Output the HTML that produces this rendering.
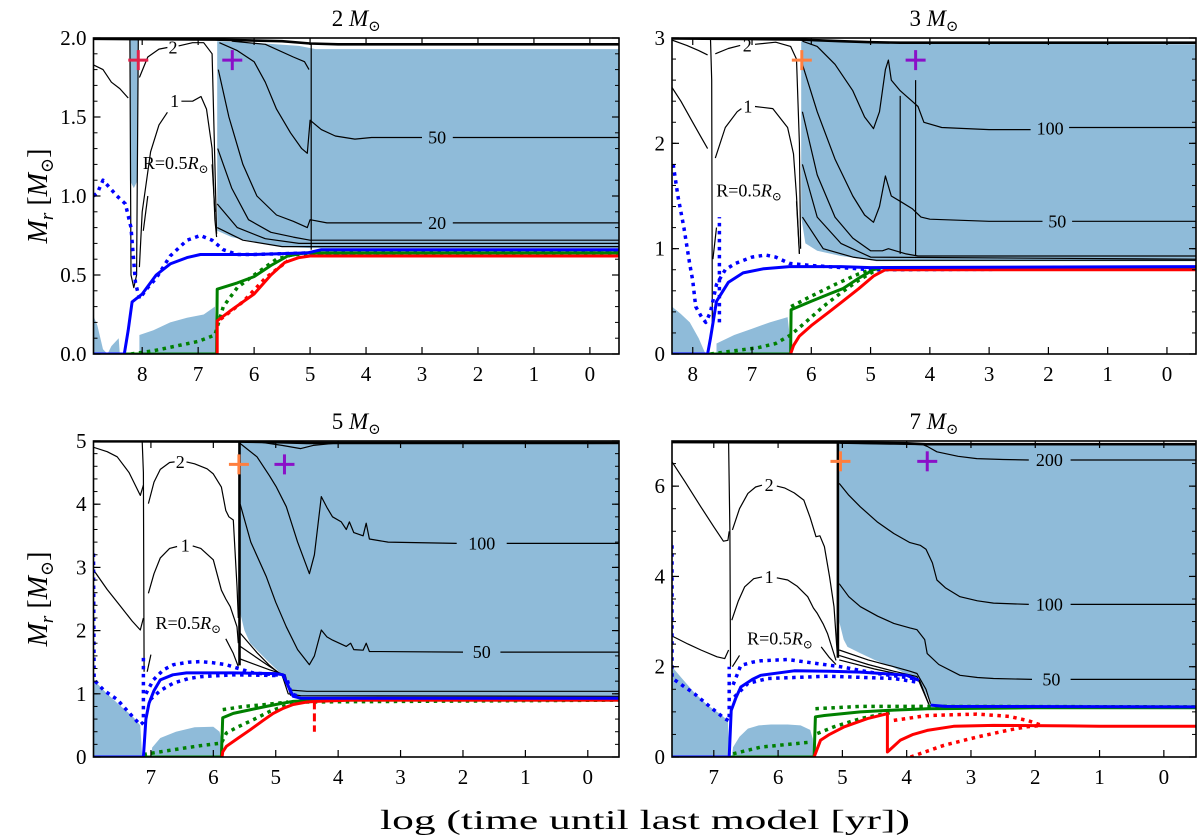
<!DOCTYPE html>
<html><head><meta charset="utf-8"><title>Kippenhahn diagrams</title>
<style>
html,body{margin:0;padding:0;background:#fff;}
svg{display:block;font-family:"Liberation Serif","DejaVu Serif",serif;}
</style></head>
<body>
<svg id="fig" width="1200" height="840" viewBox="0 0 1200 840" xmlns="http://www.w3.org/2000/svg">
<text x="645" y="829" font-size="27" text-anchor="middle" textLength="530" lengthAdjust="spacingAndGlyphs">log (time until last model [yr])</text>
<text transform="translate(47,196) rotate(-90)" font-size="28" text-anchor="middle"><tspan font-style="italic">M</tspan><tspan font-style="italic" font-size="19" dy="6">r</tspan><tspan dy="-6">  [</tspan><tspan font-style="italic">M</tspan><tspan font-size="18" dy="6">⊙</tspan><tspan dy="-6">]</tspan></text>
<text transform="translate(47,599) rotate(-90)" font-size="28" text-anchor="middle"><tspan font-style="italic">M</tspan><tspan font-style="italic" font-size="19" dy="6">r</tspan><tspan dy="-6">  [</tspan><tspan font-style="italic">M</tspan><tspan font-size="18" dy="6">⊙</tspan><tspan dy="-6">]</tspan></text>
</svg>
<script>
// ---------- 2 Msun ----------
const m2Shade=[[6.66,1.98],[6.66,0.78],[6.4,0.74],[6.0,0.71],[5.5,0.68],[5.0,0.67],[-0.52,0.67],[-0.52,1.93],[4.9,1.93],[5.2,1.95],[6.0,1.97]];
const m2ShadeDip=[[8.22,2.0],[8.22,1.1],[8.15,1.05],[8.08,1.1],[8.07,2.0]];
const m2ShadeCore=[[8.87,0],[8.87,0.24],[8.8,0.18],[8.7,0.03],[8.62,0],[8.55,0.05],[8.42,0.1],[8.4,0]];
const m2ShadeSaw=[[8.05,0],[8.05,0.12],[7.8,0.15],[7.5,0.2],[7.2,0.23],[6.9,0.25],[6.7,0.3],[6.67,0]];
const m2Surface=[[8.87,1.995],[6.7,1.99],[5.5,1.98],[5.0,1.965],[4.5,1.96],[-0.52,1.96]];
const m2Dip=[[8.22,1.99],[8.2,0.5],[8.15,0.42],[8.1,0.5],[8.07,1.99]];
const m2CL2=[[8.87,1.83],[8.7,1.8],[8.55,1.72],[8.4,1.68],[8.25,1.62]];
const m2C2a=[[8.05,1.75],[7.9,1.88],[7.7,1.93],[7.55,1.94]];
const m2C2b=[[7.35,1.95],[7.1,1.97],[6.9,1.97],[6.75,1.9],[6.7,1.2],[6.67,0.76]];
const m2C1a=[[8.05,0.55],[8.0,0.9],[7.85,1.28],[7.7,1.45],[7.55,1.53]];
const m2C1b=[[7.3,1.6],[7.1,1.6],[6.95,1.63],[6.85,1.55],[6.75,1.3],[6.7,0.85],[6.67,0.74]];
const m2Ra=[[7.98,0.78],[7.9,1.0]];
const m2Rb=[[6.75,1.2],[6.7,0.9]];
const m2E50a=[[6.62,1.97],[6.3,1.92],[6.0,1.85],[5.8,1.72],[5.6,1.55],[5.35,1.4],[5.15,1.3],[5.05,1.27],[5.0,1.48],[4.8,1.42],[4.55,1.38],[4.2,1.36],[3.9,1.37],[3.0,1.37]];
const m2E50b=[[2.45,1.37],[-0.52,1.37]];
const m2E20a=[[6.64,1.8],[6.45,1.5],[6.2,1.2],[5.95,1.0],[5.6,0.88],[5.3,0.84],[5.05,0.8],[5.0,0.85],[4.7,0.83],[3.0,0.83]];
const m2E20b=[[2.45,0.83],[-0.52,0.83]];
const m2E3=[[6.65,1.3],[6.4,1.05],[6.1,0.85],[5.7,0.77],[5.3,0.74],[5.0,0.72],[-0.52,0.72]];
const m2E4=[[6.66,0.95],[6.3,0.8],[5.8,0.73],[5.2,0.70],[-0.52,0.70]];
const m2E5=[[6.66,0.8],[6.2,0.72],[5.5,0.68],[-0.52,0.68]];
const m2E6=[[6.4,1.98],[5.8,1.96],[5.3,1.88],[5.1,1.85],[5.02,1.8]];
const m2Vert=[[4.98,1.97],[4.98,0.66]];
const m2BlueSolid=[[8.87,0],[8.32,0],[8.25,0.15],[8.18,0.33],[8.0,0.38],[7.75,0.5],[7.5,0.57],[7.2,0.61],[6.96,0.63],[6.0,0.63],[5.05,0.64],[4.8,0.66],[-0.52,0.66]];
const m2BlueDot=[[8.87,1.0],[8.8,1.02],[8.7,1.1],[8.6,1.06],[8.45,1.0],[8.3,0.95],[8.2,0.8],[8.12,0.45],[8.05,0.35],[7.9,0.42],[7.75,0.48],[7.5,0.62],[7.2,0.72],[6.96,0.75],[6.75,0.72],[6.55,0.66],[6.3,0.63],[6.0,0.63],[5.0,0.64],[-0.52,0.65]];
const m2GreenSolid=[[8.32,0],[6.67,0],[6.66,0.41],[6.3,0.45],[6.0,0.49],[5.7,0.56],[5.4,0.62],[5.1,0.64],[-0.52,0.64]];
const m2GreenDot=[[8.2,0],[7.8,0.02],[7.4,0.05],[7.0,0.08],[6.7,0.12],[6.55,0.3],[6.3,0.42],[6.0,0.5],[5.6,0.6],[5.3,0.63],[-0.52,0.64]];
const m2Red=[[6.66,0],[6.66,0.21],[6.4,0.28],[6.0,0.38],[5.7,0.5],[5.45,0.58],[5.2,0.61],[5.0,0.62],[-0.52,0.62]];
const m2RedDot=[[6.6,0.22],[6.2,0.33],[5.8,0.48],[5.4,0.59]];
const m2Markers=[[8.07,1.86],[6.39,1.86]];
const m2Labels=[[7.45,1.94,'2'],[7.42,1.6,'1'],[2.73,1.37,'50'],[2.73,0.83,'20']];
const m2RLabel=[7.4,1.21];
// ---------- 3 Msun ----------
const m3Shade=[[6.17,2.97],[6.17,1.3],[6.1,1.05],[5.9,0.98],[5.5,0.93],[5.1,0.9],[4.9,0.88],[-0.49,0.88],[-0.49,2.94],[4.2,2.95],[5.5,2.97]];
const m3ShadeCore=[[8.35,0],[8.35,0.45],[8.2,0.38],[8.05,0.3],[7.9,0.15],[7.8,0.02],[7.75,0]];
const m3ShadeSaw=[[7.6,0],[7.6,0.1],[7.3,0.18],[7.0,0.24],[6.7,0.3],[6.4,0.35],[6.33,0]];
const m3Surface=[[8.35,2.995],[7.0,2.99],[6.2,2.985],[5.5,2.97],[5.0,2.96],[4.5,2.955],[-0.49,2.955]];
const m3Dip=[[7.7,2.99],[7.68,2.6],[7.67,0.3]];
const m3CL2=[[8.35,2.98],[8.1,2.93],[7.9,2.88],[7.75,2.84]];
const m3C2a=[[7.62,2.85],[7.4,2.9],[7.2,2.93]];
const m3C2b=[[6.95,2.94],[6.6,2.96],[6.35,2.92],[6.25,2.8],[6.2,2.0],[6.18,1.0]];
const m3CL1=[[8.35,2.53],[8.2,2.4],[8.0,2.2],[7.85,2.05],[7.75,1.95]];
const m3C1a=[[7.62,1.86],[7.45,2.15],[7.25,2.3],[7.18,2.33]];
const m3C1b=[[6.95,2.35],[6.65,2.33],[6.4,2.15],[6.3,1.9],[6.25,1.5],[6.2,0.95]];
const m3Ra=[[7.66,0.9],[7.6,1.2]];
const m3Rb=[[6.25,1.45],[6.2,0.95]];
const m3E100a=[[6.15,2.97],[5.9,2.92],[5.6,2.75],[5.3,2.5],[5.1,2.25],[4.95,2.14],[4.85,2.3],[4.75,2.7],[4.7,2.79],[4.65,2.6],[4.5,2.5],[4.4,2.45],[4.3,2.4],[4.2,2.35],[4.1,2.2],[3.8,2.15],[3.0,2.13],[2.3,2.13]];
const m3E100b=[[1.65,2.15],[-0.49,2.15]];
const m3E50a=[[6.15,2.75],[5.9,2.3],[5.6,1.85],[5.3,1.5],[5.1,1.32],[4.95,1.25],[4.85,1.4],[4.75,1.69],[4.65,1.5],[4.5,1.45],[4.3,1.38],[4.15,1.3],[4.0,1.28],[3.0,1.26],[2.1,1.26]];
const m3E50b=[[1.6,1.26],[-0.49,1.26]];
const m3E3=[[6.15,2.3],[5.9,1.7],[5.6,1.3],[5.3,1.1],[5.0,0.98],[4.8,0.98],[4.7,1.0],[4.4,0.95],[4.2,0.93],[-0.49,0.93]];
const m3E4=[[6.15,1.8],[5.9,1.3],[5.5,1.05],[5.0,0.92],[-0.49,0.9]];
const m3E5=[[6.15,1.3],[5.8,1.0],[5.3,0.92],[4.9,0.89],[-0.49,0.89]];
const m3V1=[[4.5,2.45],[4.5,0.95]];
const m3V2=[[4.24,2.6],[4.24,0.93]];
const m3BlueSolid=[[8.35,0],[7.75,0],[7.7,0.15],[7.6,0.5],[7.4,0.68],[7.15,0.77],[6.8,0.81],[6.37,0.83],[5.5,0.83],[5.0,0.82],[-0.49,0.83]];
const m3BlueDot=[[8.33,1.8],[8.25,1.5],[8.15,1.2],[8.05,0.85],[8.0,0.7],[7.95,0.45],[7.85,0.35],[7.78,0.3],[7.7,0.4],[7.6,0.66],[7.45,0.8],[7.28,0.86],[7.0,0.92],[6.77,0.94],[6.6,0.92],[6.37,0.86],[6.0,0.84],[5.5,0.82],[5.0,0.8],[-0.49,0.81]];
const m3BlueDot2=[[7.55,0.3],[7.55,1.3]];
const m3GreenSolid=[[7.75,0],[6.35,0],[6.34,0.42],[6.0,0.5],[5.7,0.57],[5.47,0.62],[5.2,0.72],[4.95,0.8],[4.8,0.82],[-0.49,0.82]];
const m3GreenDot=[[7.7,0],[7.3,0.03],[6.9,0.06],[6.6,0.1],[6.35,0.18],[6.1,0.3],[5.8,0.45],[5.5,0.58],[5.2,0.7],[4.9,0.8],[-0.49,0.82]];
const m3GreenDot2=[[6.34,0.45],[6.0,0.55],[5.6,0.66],[5.2,0.76],[4.9,0.82]];
const m3Red=[[6.35,0],[6.3,0.08],[6.2,0.17],[6.0,0.27],[5.7,0.4],[5.47,0.5],[5.2,0.62],[4.95,0.74],[4.75,0.8],[-0.49,0.8]];
const m3Markers=[[6.16,2.79],[4.24,2.79]];
const m3Labels=[[7.08,2.93,'2'],[7.07,2.35,'1'],[1.97,2.14,'100'],[1.85,1.26,'50']];
const m3RLabel=[7.05,1.55];
// ---------- 5 Msun ----------
const m5Shade=[[5.6,5],[5.6,2.4],[5.5,2.0],[5.41,1.8],[5.15,1.54],[4.95,1.35],[4.83,1.17],[4.76,0.98],[4.6,0.95],[-0.5,0.95],[-0.5,4.95]];
const m5ShadeCore=[[7.92,0],[7.92,1.22],[7.7,1.0],[7.5,0.82],[7.3,0.65],[7.17,0.5],[7.14,0]];
const m5ShadeBump=[[7.0,0],[6.98,0.15],[6.85,0.3],[6.6,0.4],[6.3,0.47],[6.0,0.48],[5.9,0.4],[5.86,0.2],[5.86,0]];
const m5Surface=[[7.92,4.995],[5.6,4.99],[4.9,4.98],[4.5,4.97],[-0.5,4.97]];
const m5Dip=[[7.14,4.99],[7.12,4.5],[7.11,1.35]];
const m5CL2=[[7.92,4.9],[7.7,4.83],[7.54,4.75],[7.35,4.5],[7.17,4.14],[7.12,4.3]];
const m5C2a=[[7.04,4.01],[6.95,4.35],[6.85,4.55],[6.7,4.66],[6.62,4.67]];
const m5C2b=[[6.43,4.67],[6.3,4.64],[6.1,4.56],[6.0,4.48],[5.87,4.27],[5.8,3.9],[5.75,3.8],[5.68,3.75],[5.62,2.7],[5.6,2.2]];
const m5CL1=[[7.92,2.96],[7.7,2.65],[7.5,2.4],[7.3,2.15],[7.17,2.01],[7.12,2.2]];
const m5C1a=[[7.04,2.59],[6.95,2.9],[6.85,3.15],[6.7,3.3],[6.58,3.33]];
const m5C1b=[[6.33,3.34],[6.2,3.3],[6.0,3.12],[5.87,2.64],[5.8,2.5],[5.73,2.38],[5.62,2.06],[5.6,1.8]];
const m5Ra=[[7.06,1.35],[7.0,1.62]];
const m5Rb=[[5.8,1.87],[5.68,1.64],[5.6,1.43]];
const m5Thick=[[5.58,4.99],[5.58,1.45]];
const m5E100a=[[5.57,4.96],[5.3,4.75],[5.1,4.45],[4.99,4.27],[4.83,3.96],[4.65,3.4],[4.46,2.9],[4.38,3.2],[4.27,4.12],[4.18,3.95],[4.09,3.8],[3.95,3.72],[3.87,3.6],[3.82,3.72],[3.75,3.55],[3.6,3.5],[3.55,3.7],[3.5,3.45],[3.2,3.4],[2.1,3.38]];
const m5E100b=[[1.3,3.38],[-0.5,3.38]];
const m5E50a=[[5.57,4.0],[5.4,3.4],[5.15,2.85],[5.0,2.45],[4.83,2.06],[4.65,1.7],[4.46,1.46],[4.38,1.6],[4.27,2.01],[4.18,1.9],[4.09,1.85],[3.87,1.75],[3.8,1.8],[3.75,1.7],[3.6,1.69],[3.55,1.8],[3.5,1.67],[2.0,1.66]];
const m5E50b=[[1.4,1.66],[-0.5,1.66]];
const m5E3=[[5.57,1.96],[5.3,1.65],[5.1,1.45],[4.88,1.27],[4.78,1.06],[4.5,1.04],[-0.5,1.04]];
const m5E4=[[5.57,1.75],[5.2,1.5],[4.9,1.3],[4.8,1.0],[4.6,0.97],[-0.5,0.96]];
const m5E5=[[5.57,1.55],[5.1,1.38],[4.85,1.3],[4.76,0.97]];
const m5E6=[[5.3,4.99],[4.9,4.93],[4.6,4.88],[4.4,4.93],[4.0,4.97]];
const m5BlueSolid=[[7.92,0],[7.12,0],[7.08,0.6],[7.03,0.85],[6.95,1.05],[6.85,1.22],[6.65,1.3],[6.43,1.33],[5.68,1.33],[5.0,1.32],[4.88,1.3],[4.8,1.12],[4.72,0.96],[4.6,0.93],[-0.5,0.93]];
const m5BlueDot=[[7.92,3.22],[7.91,1.22],[7.75,1.05],[7.54,0.91],[7.35,0.7],[7.17,0.51],[7.12,0.55],[7.12,1.64]];
const m5BlueDot2=[[7.08,1.0],[6.96,1.22],[6.8,1.38],[6.64,1.46],[6.4,1.5],[6.21,1.51],[6.0,1.49],[5.79,1.46],[5.6,1.4],[5.36,1.33],[5.0,1.3],[4.83,1.27],[4.75,1.0],[4.6,0.95]];
const m5BlueDot3=[[7.01,0.91],[6.85,1.05],[6.64,1.17],[6.4,1.24],[6.21,1.27],[5.68,1.3],[5.0,1.29]];
const m5GreenSolid=[[7.12,0],[5.87,0],[5.85,0.62],[5.68,0.69],[5.4,0.75],[5.15,0.8],[4.9,0.85],[4.72,0.88],[4.3,0.9],[-0.5,0.9]];
const m5GreenDot=[[7.12,0.04],[6.8,0.09],[6.48,0.14],[6.2,0.18],[5.87,0.22],[5.79,0.38],[5.6,0.48],[5.36,0.59],[5.1,0.72],[4.88,0.8],[4.6,0.87],[-0.5,0.9]];
const m5GreenDot2=[[5.85,0.75],[5.5,0.8],[5.15,0.83],[4.8,0.87]];
const m5Red=[[5.86,0],[5.85,0.08],[5.79,0.17],[5.6,0.3],[5.41,0.43],[5.2,0.58],[5.04,0.69],[4.88,0.77],[4.72,0.83],[4.5,0.87],[4.35,0.88],[3.8,0.9],[-0.5,0.9]];
const m5RedSpike=[[4.38,0.88],[4.38,0.4]];
const m5Markers=[[5.59,4.63],[4.86,4.63]];
const m5Labels=[[6.53,4.67,'2'],[6.45,3.35,'1'],[1.7,3.38,'100'],[1.7,1.66,'50']];
const m5RLabel=[6.4,2.12];
// ---------- 7 Msun ----------
const m7Shade=[[5.05,6.96],[5.05,3.0],[4.98,2.6],[4.92,2.44],[4.72,2.3],[4.5,2.15],[4.2,1.98],[3.95,1.8],[3.78,1.65],[3.7,1.4],[3.63,1.18],[3.5,1.12],[-0.5,1.11],[-0.5,6.95]];
const m7ShadeCore=[[7.65,0],[7.65,2.0],[7.5,1.75],[7.3,1.42],[7.1,1.15],[6.9,0.95],[6.78,0.81],[6.76,0]];
const m7ShadeBump=[[6.72,0],[6.7,0.22],[6.6,0.45],[6.47,0.63],[6.3,0.7],[6.11,0.72],[5.85,0.72],[5.65,0.7],[5.5,0.6],[5.46,0.4],[5.45,0]];
const m7Surface=[[7.65,6.975],[5.1,6.97],[4.0,6.95],[3.7,6.93],[-0.5,6.93]];
const m7Dip=[[6.77,6.96],[6.75,5.0],[6.74,2.0]];
const m7CL2=[[7.65,6.54],[7.45,6.1],[7.2,5.54],[7.0,5.1],[6.85,4.78],[6.78,4.8],[6.76,5.0]];
const m7C2a=[[6.71,5.03],[6.6,5.5],[6.47,5.84],[6.35,5.98],[6.25,6.02]];
const m7C2b=[[6.02,6.0],[5.9,5.96],[5.75,5.85],[5.6,5.69],[5.5,5.3],[5.41,4.88],[5.35,4.9],[5.28,4.66],[5.2,4.0],[5.13,3.33],[5.08,2.3]];
const m7CL1=[[7.65,2.68],[7.4,2.5],[7.2,2.37],[6.95,2.22],[6.83,2.18],[6.77,2.37]];
const m7C1a=[[6.72,3.03],[6.62,3.45],[6.52,3.77],[6.38,3.95],[6.25,3.99]];
const m7C1b=[[6.02,3.97],[5.85,3.92],[5.7,3.78],[5.54,3.55],[5.45,3.3],[5.39,3.18],[5.3,2.95],[5.23,2.73],[5.1,2.14]];
const m7Ra=[[6.71,2.0],[6.6,2.25]];
const m7Rb=[[5.33,2.44],[5.2,2.2],[5.1,2.05]];
const m7Thick=[[5.07,6.96],[5.07,2.2]];
const m7E200a=[[5.03,6.95],[4.2,6.93],[3.75,6.92],[3.68,6.88],[3.53,6.76],[3.2,6.66],[2.91,6.61],[2.5,6.59],[2.1,6.58]];
const m7E200b=[[1.45,6.58],[-0.5,6.58]];
const m7E100a=[[5.05,6.06],[4.9,5.8],[4.72,5.54],[4.45,5.2],[4.2,4.95],[3.95,4.75],[3.79,4.69],[3.7,4.6],[3.6,4.3],[3.53,3.92],[3.4,3.75],[3.17,3.55],[2.9,3.46],[2.65,3.41],[2.1,3.38]];
const m7E100b=[[1.45,3.38],[-0.5,3.38]];
const m7E50a=[[5.05,3.84],[4.9,3.55],[4.72,3.33],[4.45,3.12],[4.2,2.96],[3.95,2.86],[3.84,2.82],[3.72,2.6],[3.68,2.29],[3.5,2.05],[3.17,1.81],[2.9,1.76],[2.65,1.74],[2.05,1.72]];
const m7E50b=[[1.45,1.72],[-0.5,1.72]];
const m7E4=[[5.05,2.37],[4.6,2.15],[4.2,2.0],[3.95,1.9],[3.84,1.85],[3.7,1.5],[3.63,1.18]];
const m7E5=[[5.05,2.25],[4.6,2.05],[4.2,1.9],[3.84,1.78],[3.66,1.18]];
const m7E6=[[5.05,2.15],[4.5,1.95],[4.0,1.8],[3.8,1.7],[3.65,1.15]];
const m7BlueSolid=[[7.65,0],[6.76,0],[6.73,1.03],[6.66,1.3],[6.58,1.55],[6.4,1.72],[6.27,1.81],[5.75,1.91],[5.2,1.9],[4.72,1.88],[4.3,1.84],[4.0,1.81],[3.81,1.7]];
const m7BlueSolid2=[[3.63,1.15],[3.4,1.12],[-0.5,1.11]];
const m7BlueDot=[[7.65,4.69],[7.65,1.75],[7.5,1.6],[7.3,1.4],[7.05,1.1],[6.83,0.85],[6.76,0.8],[6.76,2.0]];
const m7BlueDot2=[[6.7,1.6],[6.58,2.03],[6.4,2.1],[6.27,2.13],[5.85,2.16],[5.39,2.07],[5.03,2.0],[4.46,1.85],[3.89,1.74]];
const m7BlueDot3=[[6.68,1.33],[6.47,1.63],[6.16,1.74],[5.23,1.79],[4.2,1.74],[3.84,1.66]];
const m7GreenSolid=[[6.76,0],[5.44,0],[5.42,0.89],[5.28,0.92],[4.72,1.0],[4.2,1.04],[3.68,1.07],[2.0,1.09],[-0.5,1.09]];
const m7GreenDot=[[5.42,1.07],[4.72,1.12],[3.68,1.12],[-0.5,1.11]];
const m7GreenDot2=[[6.7,0.07],[6.27,0.22],[5.49,0.33]];
const m7GreenDot3=[[5.39,0.52],[5.13,0.67],[4.72,0.85],[4.2,1.0]];
const m7Red=[[5.44,0],[5.34,0.37],[5.2,0.5],[4.97,0.67],[4.61,0.85],[4.3,0.96],[4.3,0.11],[4.1,0.37],[3.9,0.5],[3.68,0.59],[3.27,0.68],[2.65,0.7],[1.5,0.69],[1.0,0.68],[-0.5,0.68]];
const m7RedDot=[[4.2,0.81],[3.68,0.92],[2.91,0.95],[2.4,0.9],[2.1,0.8],[1.9,0.7]];
const m7RedDot2=[[3.94,0],[3.42,0.26],[2.91,0.44],[2.4,0.6],[2.13,0.67],[1.9,0.7]];
const m7Markers=[[5.03,6.55],[3.68,6.55]];
const m7Labels=[[6.14,6.02,'2'],[6.14,3.99,'1'],[1.78,6.58,'200'],[1.78,3.38,'100'],[1.75,1.72,'50']];
const m7RLabel=[5.97,2.62];
// ---------- axis tick values ----------
const xTicksTop=[8,7,6,5,4,3,2,1,0];
const xTicksBottom=[7,6,5,4,3,2,1,0];
const m2YTicks=[0,0.5,1.0,1.5,2.0];
const m3YTicks=[0,1,2,3];
const m5YTicks=[0,1,2,3,4,5];
const m7YTicks=[0,2,4,6];
const titles=['2','3','5','7'];

const NS='http://www.w3.org/2000/svg';
const svg=document.getElementById('fig');
function mk(tag,attrs,parent){const e=document.createElementNS(NS,tag);for(const k in attrs)e.setAttribute(k,attrs[k]);(parent||svg).appendChild(e);return e;}

const SHADE='#8fbbd9';
const panels=[
 {key:'m2',box:[93.5,38,619,354],t:[8.87,-0.52],m:[0,2],yt:m2YTicks,ymin:0.1,yfmt:1,xt:xTicksTop,title:titles[0],
  shades:[m2Shade,m2ShadeDip,m2ShadeCore,m2ShadeSaw],
  thin:[m2Dip,m2CL2,m2C2a,m2C2b,m2C1a,m2C1b,m2Ra,m2Rb,m2E50a,m2E50b,m2E20a,m2E20b,m2E3,m2E4,m2E5,m2E6,m2Vert],
  thick:[m2Surface],
  blue:[m2BlueSolid],blueDot:[m2BlueDot],green:[m2GreenSolid],greenDot:[m2GreenDot],red:[m2Red],redDot:[m2RedDot],redDash:[],
  markers:m2Markers,m1col:'#e0204a',labels:m2Labels,rl:m2RLabel},
 {key:'m3',box:[672,38,1196,354],t:[8.35,-0.49],m:[0,3],yt:m3YTicks,ymin:0.2,yfmt:0,xt:xTicksTop,title:titles[1],
  shades:[m3Shade,m3ShadeCore,m3ShadeSaw],
  thin:[m3Dip,m3CL2,m3C2a,m3C2b,m3CL1,m3C1a,m3C1b,m3Ra,m3Rb,m3E100a,m3E100b,m3E50a,m3E50b,m3E3,m3E4,m3E5,m3V1,m3V2],
  thick:[m3Surface],
  blue:[m3BlueSolid],blueDot:[m3BlueDot,m3BlueDot2],green:[m3GreenSolid],greenDot:[m3GreenDot,m3GreenDot2],red:[m3Red],redDot:[],redDash:[],
  markers:m3Markers,m1col:'#ff7f3f',labels:m3Labels,rl:m3RLabel},
 {key:'m5',box:[93.5,441,619,757],t:[7.92,-0.5],m:[0,5],yt:m5YTicks,ymin:0.2,yfmt:0,xt:xTicksBottom,title:titles[2],
  shades:[m5Shade,m5ShadeCore,m5ShadeBump],
  thin:[m5Dip,m5CL2,m5C2a,m5C2b,m5CL1,m5C1a,m5C1b,m5Ra,m5Rb,m5E100a,m5E100b,m5E50a,m5E50b,m5E3,m5E4,m5E5,m5E6],
  thick:[m5Surface,m5Thick],
  blue:[m5BlueSolid],blueDot:[m5BlueDot,m5BlueDot2,m5BlueDot3],green:[m5GreenSolid],greenDot:[m5GreenDot,m5GreenDot2],red:[m5Red],redDot:[],redDash:[m5RedSpike],
  markers:m5Markers,m1col:'#ff7f3f',labels:m5Labels,rl:m5RLabel},
 {key:'m7',box:[672,441,1196,757],t:[7.65,-0.5],m:[0,7],yt:m7YTicks,ymin:0.5,yfmt:0,xt:xTicksBottom,title:titles[3],
  shades:[m7Shade,m7ShadeCore,m7ShadeBump],
  thin:[m7Dip,m7CL2,m7C2a,m7C2b,m7CL1,m7C1a,m7C1b,m7Ra,m7Rb,m7E200a,m7E200b,m7E100a,m7E100b,m7E50a,m7E50b,m7E4,m7E5,m7E6],
  thick:[m7Surface,m7Thick],
  blue:[m7BlueSolid,m7BlueSolid2],blueDot:[m7BlueDot,m7BlueDot2,m7BlueDot3],green:[m7GreenSolid],greenDot:[m7GreenDot,m7GreenDot2,m7GreenDot3],red:[m7Red],redDot:[m7RedDot,m7RedDot2],redDash:[],
  markers:m7Markers,m1col:'#ff7f3f',labels:m7Labels,rl:m7RLabel}
];

panels.forEach(function(P){
  const [x0,y0,x1,y1]=P.box;
  const sx=t=>x0+(P.t[0]-t)/(P.t[0]-P.t[1])*(x1-x0);
  const sy=m=>y1-(m-P.m[0])/(P.m[1]-P.m[0])*(y1-y0);
  const g=mk('g',{});
  
  
  const cp=mk('clipPath',{id:'clip-'+P.key},g);
  mk('rect',{x:x0,y:y0,width:x1-x0,height:y1-y0},cp);
  const plot=mk('g',{'clip-path':'url(#clip-'+P.key+')'},g);
  
  
  const pts=a=>a.map(p=>sx(p[0]).toFixed(1)+','+sy(p[1]).toFixed(1)).join(' ');
  P.shades.forEach(function(a,i){
    const e=mk('polygon',{points:pts(a),fill:SHADE,stroke:'none'},plot);
    
    
  });
  function lines(list,name,attrs){
    list.forEach(function(a,i){
      const o={points:pts(a),fill:'none','stroke-linejoin':'round'};
      for(const k in attrs)o[k]=attrs[k];
      const e=mk('polyline',o,plot);
      
      
    });
  }
  lines(P.thin,'radius-contour',{stroke:'#000','stroke-width':1.2});
  lines(P.thick,'surface-line',{stroke:'#000','stroke-width':2.6});
  lines(P.greenDot,'green-dotted',{stroke:'#008000','stroke-width':3.5,'stroke-dasharray':'3.5 4.5'});
  lines(P.redDot,'red-dotted',{stroke:'#ff0000','stroke-width':3.5,'stroke-dasharray':'3.5 4.5'});
  lines(P.blueDot,'blue-dotted',{stroke:'#0000ff','stroke-width':3.5,'stroke-dasharray':'3.5 4.5'});
  lines(P.green,'green-solid',{stroke:'#008000','stroke-width':3});
  lines(P.red,'red-solid',{stroke:'#ff0000','stroke-width':3});
  lines(P.redDash,'red-dashed',{stroke:'#ff0000','stroke-width':3,'stroke-dasharray':'8 4'});
  lines(P.blue,'blue-solid',{stroke:'#0000ff','stroke-width':3});
  // contour labels
  P.labels.forEach(function(L){
    const e=mk('text',{x:sx(L[0]),y:sy(L[1])+6,'font-size':18,'text-anchor':'middle'},plot);
    e.textContent=L[2];
    
    
  });
  const rl=mk('text',{x:sx(P.rl[0]),y:sy(P.rl[1])+6,'font-size':18,'text-anchor':'middle'},plot);
  rl.innerHTML='R=0.5<tspan font-style="italic">R</tspan><tspan font-size="12" dy="4">⊙</tspan>';
  
  
  // markers
  P.markers.forEach(function(M,i){
    const cx=sx(M[0]),cy=sy(M[1]);
    const col=i===0?P.m1col:'#8a10c8';
    const mg=mk('g',{stroke:col,'stroke-width':3},plot);
    
    
    mk('line',{x1:cx-10,y1:cy,x2:cx+10,y2:cy},mg);
    mk('line',{x1:cx,y1:cy-10,x2:cx,y2:cy+10},mg);
  });
  // frame
  const fr=mk('rect',{x:x0,y:y0,width:x1-x0,height:y1-y0,fill:'none',stroke:'#000','stroke-width':1.6},g);
  
  
  // x ticks
  P.xt.forEach(function(v){
    const x=sx(v);
    mk('line',{x1:x,y1:y1,x2:x,y2:y1-7,stroke:'#000','stroke-width':1.2},g);
    mk('line',{x1:x,y1:y0,x2:x,y2:y0+7,stroke:'#000','stroke-width':1.2},g);
    const t=mk('text',{x:x,y:y1+27,'font-size':21,'text-anchor':'middle'},g);
    t.textContent=String(v);
    
    
  });
  // y minor ticks
  const n=Math.round((P.m[1]-P.m[0])/P.ymin);
  for(let i=0;i<=n;i++){
    const y=sy(P.m[0]+i*P.ymin);
    mk('line',{x1:x0,y1:y,x2:x0+4,y2:y,stroke:'#000','stroke-width':1},g);
    mk('line',{x1:x1,y1:y,x2:x1-4,y2:y,stroke:'#000','stroke-width':1},g);
  }
  P.yt.forEach(function(v){
    const y=sy(v);
    mk('line',{x1:x0,y1:y,x2:x0+7,y2:y,stroke:'#000','stroke-width':1.2},g);
    mk('line',{x1:x1,y1:y,x2:x1-7,y2:y,stroke:'#000','stroke-width':1.2},g);
    const t=mk('text',{x:x0-7,y:y+7,'font-size':21,'text-anchor':'end'},g);
    t.textContent=v.toFixed(P.yfmt);
    
    
  });
  const tt=mk('text',{x:(x0+x1)/2,y:y0-12,'font-size':23,'text-anchor':'middle'},g);
  tt.innerHTML=P.title+' <tspan font-style="italic">M</tspan><tspan font-size="15" dy="5">⊙</tspan>';
  
  
});
</script>
</body></html>
